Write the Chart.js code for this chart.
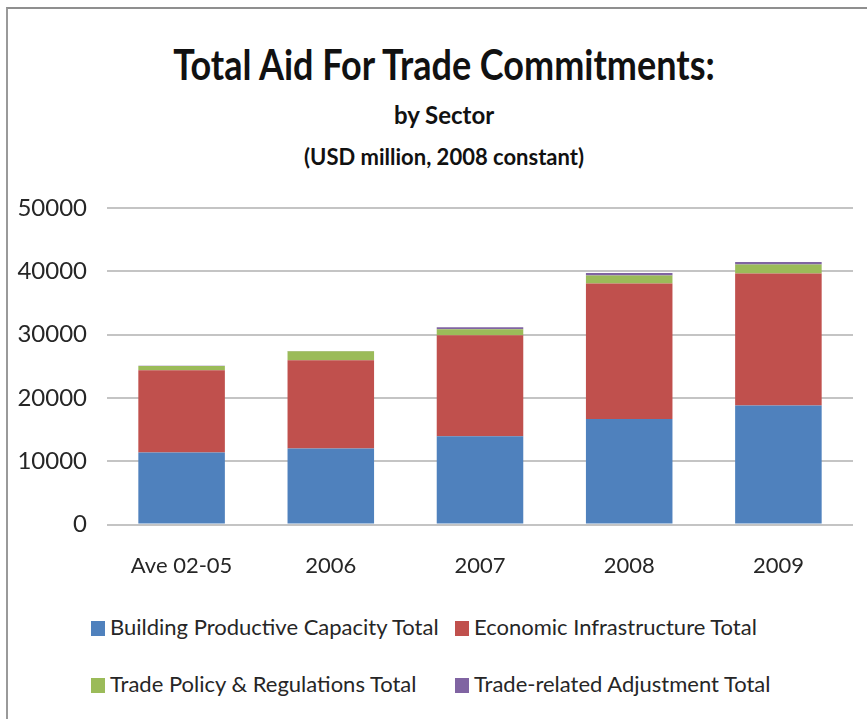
<!DOCTYPE html>
<html>
<head>
<meta charset="utf-8">
<script src="https://cdn.jsdelivr.net/npm/chart.js@4"></script>
<style>
  html, body { margin: 0; padding: 0; background: #fff; }
  #wrap { position: relative; width: 867px; height: 719px; overflow: hidden; font-family: Lato, sans-serif; color: #111; }
  #frame { position: absolute; left: 6px; top: 7px; right: -10px; bottom: -10px; border-left: 2px solid #9a9a9a; border-top: 2px solid #8f8f8f; }
  #box { position: absolute; left: 0; top: 0; width: 867px; height: 599px; }
  .ttl { position: absolute; left: 0; width: 888px; text-align: center; font-weight: bold; white-space: nowrap; transform-origin: 50% 0; }
  #t1 { top: 43px; font-size: 36px; line-height: 36px; transform: scaleY(1.15); }
  #t2 { top: 103px; font-size: 24px; line-height: 24px; }
  #t3 { top: 146px; font-size: 22px; line-height: 22px; }
  #legend { position: absolute; left: 91px; top: 613px; display: grid; grid-template-columns: 364px 360px; row-gap: 30px; font-size: 22px; color: #262626; }
  #legend span.sw { display: inline-block; width: 14px; height: 15px; margin-right: 5px; vertical-align: -1px; }
</style>
</head>
<body>
<div id="wrap">
  <div id="frame"></div>
  <div class="ttl" id="t1">Total Aid For Trade Commitments:</div>
  <div class="ttl" id="t2">by Sector</div>
  <div class="ttl" id="t3">(USD million, 2008 constant)</div>
  <div id="box"><canvas id="chart"></canvas></div>
  <div id="legend"></div>
</div>
<script>
const categories = ['Ave 02-05', '2006', '2007', '2008', '2009'];
const buildingCapacity = [11370, 12000, 13950, 16680, 18800];
const economicInfra = [13000, 13960, 15950, 21390, 20850];
const tradePolicy = [680, 1420, 950, 1270, 1420];
const tradeAdjustment = [40, 50, 300, 400, 400];
const yTicks = [0, 10000, 20000, 30000, 40000, 50000];

const seriesNames = ['Building Productive Capacity Total', 'Economic Infrastructure Total',
  'Trade Policy & Regulations Total', 'Trade-related Adjustment Total'];
const seriesColors = ['#4F81BD', '#C0504D', '#9BBB59', '#8064A2'];
const seriesData = [buildingCapacity, economicInfra, tradePolicy, tradeAdjustment];

const ctx = document.getElementById('chart').getContext('2d');
new Chart(ctx, {
  type: 'bar',
  data: {
    labels: categories,
    datasets: seriesData.map((d, i) => ({
      label: seriesNames[i],
      data: d,
      backgroundColor: seriesColors[i],
      borderWidth: 0,
      categoryPercentage: 1,
      barPercentage: 0.58
    }))
  },
  options: {
    responsive: true,
    maintainAspectRatio: false,
    animation: false,
    layout: { padding: { left: 0, right: 14, top: 208, bottom: 0 } },
    plugins: {
      legend: { display: false },
      tooltip: { enabled: false }
    },
    scales: {
      x: {
        stacked: true,
        grid: { display: false },
        border: { display: false },
        ticks: { color: '#262626', font: { family: 'Lato', size: 22 }, padding: 20 }
      },
      y: {
        stacked: true,
        min: 0,
        max: 50000,
        afterBuildTicks: (axis) => { axis.ticks = yTicks.map(v => ({ value: v })); },
        afterFit: (axis) => { axis.width = 107; },
        grid: { color: '#c4c4c4', lineWidth: 2, drawTicks: false },
        border: { display: false },
        ticks: {
          color: '#262626',
          font: { family: 'Lato', size: 24 },
          padding: 20,
          callback: (v) => String(v)
        }
      }
    }
  }
});

const legend = document.getElementById('legend');
seriesNames.forEach((name, i) => {
  const item = document.createElement('div');
  item.innerHTML = `<span class="sw" style="background:${seriesColors[i]}"></span>`;
  item.appendChild(document.createTextNode(name));
  legend.appendChild(item);
});
</script>
</body>
</html>
